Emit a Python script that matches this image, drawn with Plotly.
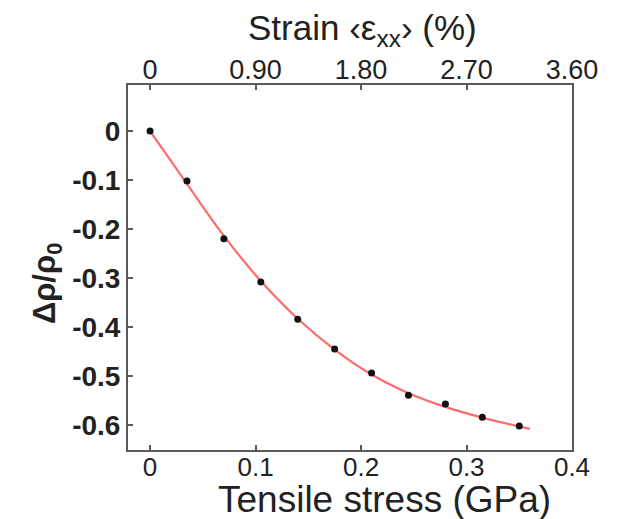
import plotly.graph_objects as go

# measured points
stress = [0, 0.035, 0.07, 0.105, 0.14, 0.175, 0.21, 0.245, 0.28, 0.315, 0.35]
drho = [0, -0.102, -0.220, -0.308, -0.384, -0.445, -0.494, -0.539, -0.557, -0.584, -0.602]

# fitted curve
fit_stress = [0, 0.035, 0.07, 0.105, 0.14, 0.175, 0.21, 0.245, 0.28, 0.315, 0.36]
fit_drho = [0, -0.108, -0.214, -0.306, -0.383, -0.446, -0.497, -0.535, -0.563, -0.585, -0.608]

# axes ticks
x_ticks = [0, 0.1, 0.2, 0.3, 0.4]
x_ticktext = ["0", "0.1", "0.2", "0.3", "0.4"]
y_ticks = [0, -0.1, -0.2, -0.3, -0.4, -0.5, -0.6]
y_ticktext = ["0", "-0.1", "-0.2", "-0.3", "-0.4", "-0.5", "-0.6"]
strain_ticks = [0, 0.9, 1.8, 2.7, 3.6]
strain_ticktext = ["0", "0.90", "1.80", "2.70", "3.60"]

FONT = "Liberation Sans, Arial, sans-serif"
AX = "#5a5a5a"
TXT = "#222222"

X0, X1 = -0.0209, 0.4
Y0, Y1 = -0.651, 0.094

fig = go.Figure()
fig.add_trace(go.Scatter(x=fit_stress, y=fit_drho, mode="lines",
                         line=dict(color="#ff6b6b", width=2.2, shape="spline"),
                         hoverinfo="skip", showlegend=False))
fig.add_trace(go.Scatter(x=stress, y=drho, mode="markers",
                         marker=dict(color="#111111", size=7),
                         showlegend=False))
# invisible trace for top strain axis
fig.add_trace(go.Scatter(x=[s * 9 for s in stress], y=drho, xaxis="x2", mode="markers",
                         marker=dict(opacity=0), hoverinfo="skip", showlegend=False))

# page body adds an 8px margin, so the figure is 8px smaller than the window
fig.update_layout(
    width=613, height=511,
    margin=dict(l=120, r=49, t=77, b=69),
    paper_bgcolor="white", plot_bgcolor="white",
    font=dict(family=FONT, color=TXT),
    xaxis=dict(range=[X0, X1], tickvals=x_ticks, ticktext=x_ticktext, automargin=False,
               showgrid=False, zeroline=False, showline=True, linecolor=AX, linewidth=2,
               mirror=True, ticks="inside", ticklen=5, tickcolor=AX, tickwidth=1.5,
               ticklabelstandoff=-7,
               tickfont=dict(size=26, family=FONT, color=TXT)),
    xaxis2=dict(range=[X0 * 9, X1 * 9], tickvals=strain_ticks, ticktext=strain_ticktext,
                automargin=False,
                overlaying="x", side="top", showgrid=False, zeroline=False, showline=False,
                ticks="inside", ticklen=5, tickcolor=AX, tickwidth=1.5,
                tickfont=dict(size=27, family=FONT, color=TXT)),
    yaxis=dict(range=[Y0, Y1], tickvals=y_ticks, ticktext=y_ticktext, automargin=False,
               showgrid=False, zeroline=False, showline=True, linecolor=AX, linewidth=2,
               mirror=True, ticks="inside", ticklen=5, tickcolor=AX, tickwidth=1.5,
               tickfont=dict(size=28, family=FONT, color=TXT, weight="bold")),
    annotations=[
        dict(text="Tensile stress (GPa)", xref="paper", yref="paper", x=0.577, y=-0.136,
             xanchor="center", yanchor="middle", showarrow=False,
             font=dict(size=37, family=FONT, color=TXT)),
        dict(text="Strain \u2039\u03b5<sub>xx</sub>\u203a (%)", xref="paper", yref="paper",
             x=0.529, y=1.15, xanchor="center", yanchor="middle", showarrow=False,
             font=dict(size=35, family=FONT, color=TXT)),
        dict(text="\u0394\u03c1/\u03c1<sub>0</sub>", xref="paper", yref="paper",
             x=-0.182, y=0.455, xanchor="center", yanchor="middle", showarrow=False,
             textangle=-90, font=dict(size=31, family=FONT, color=TXT, weight="bold")),
    ],
)

fig.write_html("out.html")
